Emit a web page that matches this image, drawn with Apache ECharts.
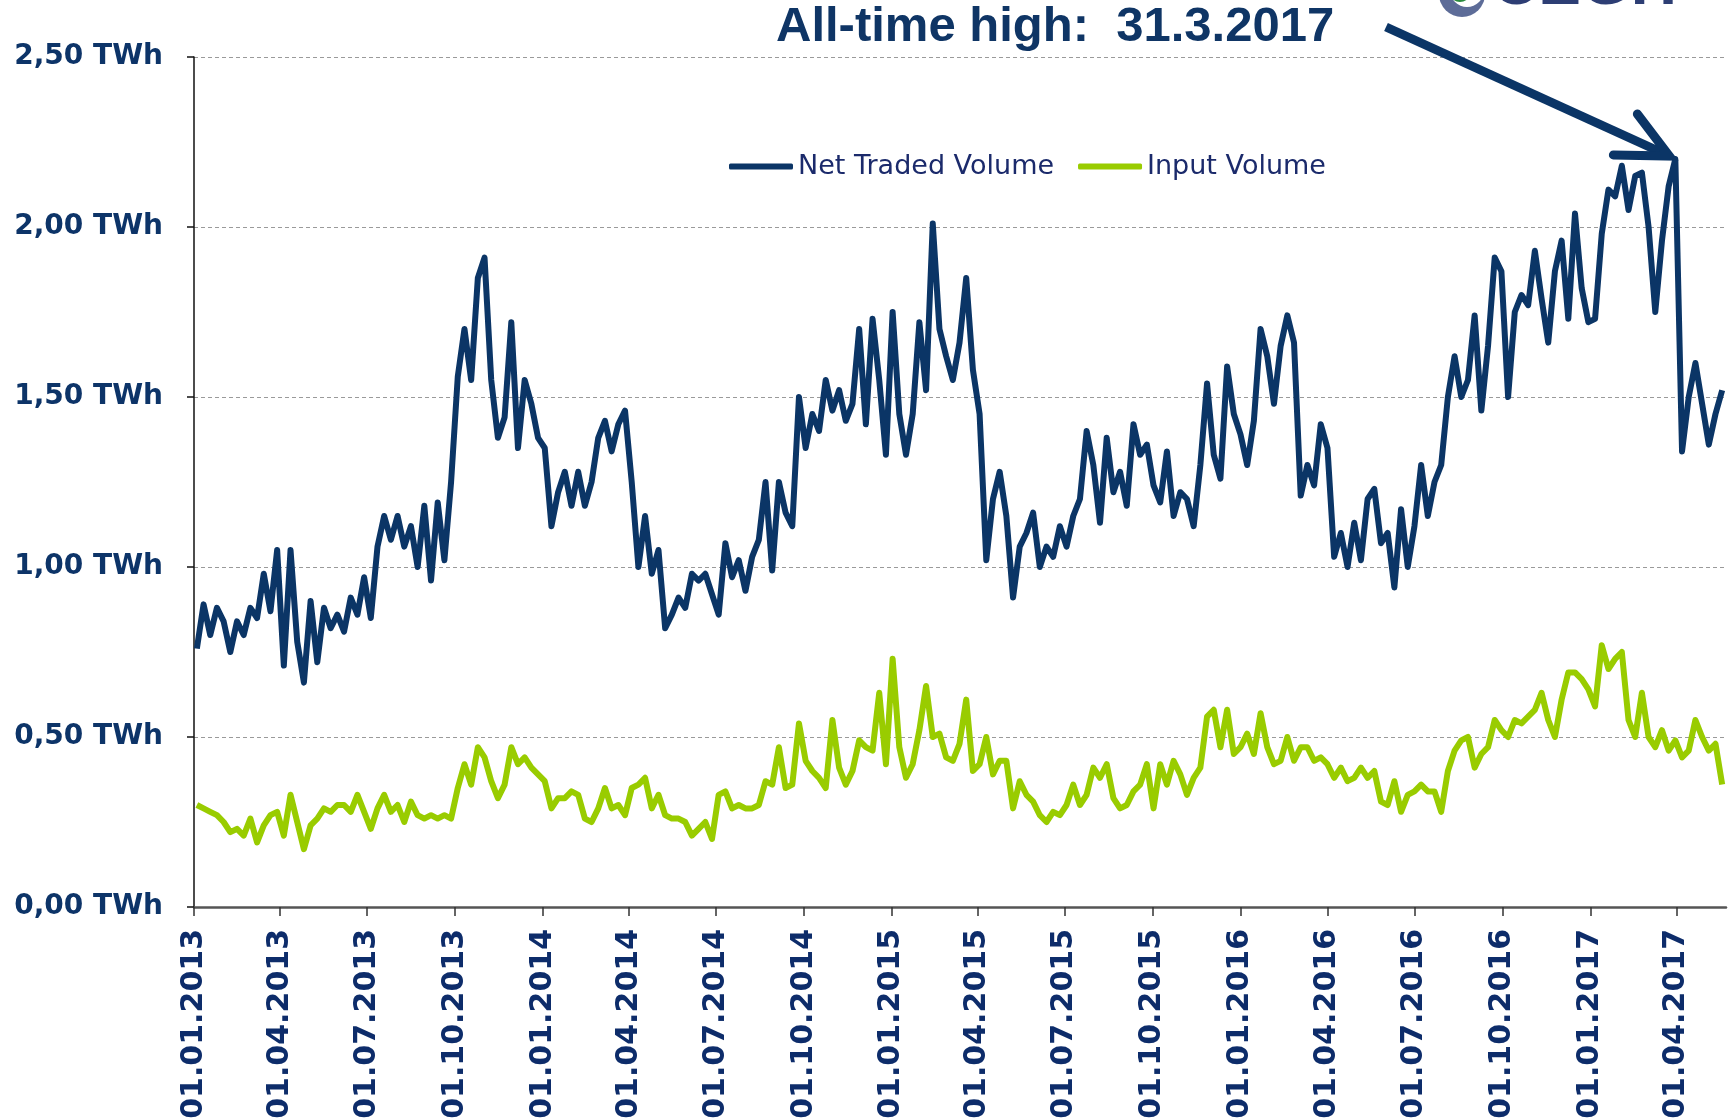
<!DOCTYPE html>
<html>
<head>
<meta charset="utf-8">
<script src="https://cdn.jsdelivr.net/npm/echarts@6/dist/echarts.min.js"></script>
<style>
html,body{margin:0;padding:0;background:#fff;}
#main{width:1729px;height:1119px;}
</style>
</head>
<body>
<div id="main"></div>
<script>
// quarter tick labels on the date axis
var tickLabels = ["01.01.2013","01.04.2013","01.07.2013","01.10.2013","01.01.2014","01.04.2014",
    "01.07.2014","01.10.2014","01.01.2015","01.04.2015","01.07.2015","01.10.2015",
    "01.01.2016","01.04.2016","01.07.2016","01.10.2016","01.01.2017","01.04.2017"];
var axisEnd = "23.05.2017";

// one reading per week, first one on 04.01.2013
var firstDate = "04.01.2013";
var stepDays = 7;

// TWh
var netTraded = [
    0.76,0.89,0.80,0.88,0.84,0.75,0.84,0.80,0.88,0.85,
    0.98,0.87,1.05,0.71,1.05,0.78,0.66,0.90,0.72,0.88,
    0.82,0.86,0.81,0.91,0.86,0.97,0.85,1.06,1.15,1.08,
    1.15,1.06,1.12,1.00,1.18,0.96,1.19,1.02,1.25,1.56,
    1.70,1.55,1.85,1.91,1.55,1.38,1.44,1.72,1.35,1.55,
    1.48,1.38,1.35,1.12,1.22,1.28,1.18,1.28,1.18,1.25,
    1.38,1.43,1.34,1.42,1.46,1.25,1.00,1.15,0.98,1.05,
    0.82,0.86,0.91,0.88,0.98,0.96,0.98,0.92,0.86,1.07,
    0.97,1.02,0.93,1.03,1.08,1.25,0.99,1.25,1.16,1.12,
    1.50,1.35,1.45,1.40,1.55,1.46,1.52,1.43,1.48,1.70,
    1.42,1.73,1.55,1.33,1.75,1.45,1.33,1.45,1.72,1.52,
    2.01,1.70,1.62,1.55,1.66,1.85,1.58,1.45,1.02,1.20,
    1.28,1.15,0.91,1.06,1.10,1.16,1.00,1.06,1.03,1.12,
    1.06,1.15,1.20,1.40,1.30,1.13,1.38,1.22,1.28,1.18,
    1.42,1.33,1.36,1.24,1.19,1.34,1.15,1.22,1.20,1.12,
    1.30,1.54,1.33,1.26,1.59,1.45,1.39,1.30,1.43,1.70,
    1.62,1.48,1.65,1.74,1.66,1.21,1.30,1.24,1.42,1.35,
    1.03,1.10,1.00,1.13,1.02,1.20,1.23,1.07,1.10,0.94,
    1.17,1.00,1.12,1.30,1.15,1.25,1.30,1.50,1.62,1.50,
    1.55,1.74,1.46,1.65,1.91,1.87,1.50,1.75,1.80,1.77,
    1.93,1.79,1.66,1.87,1.96,1.73,2.04,1.82,1.72,1.73,
    1.98,2.11,2.09,2.18,2.05,2.15,2.16,2.00,1.75,1.96,
    2.12,2.20,1.34,1.50,1.60,1.48,1.36,1.45,1.52
];
var inputVolume = [
    0.30,0.29,0.28,0.27,0.25,0.22,0.23,0.21,0.26,0.19,
    0.24,0.27,0.28,0.21,0.33,0.25,0.17,0.24,0.26,0.29,
    0.28,0.30,0.30,0.28,0.33,0.28,0.23,0.29,0.33,0.28,
    0.30,0.25,0.31,0.27,0.26,0.27,0.26,0.27,0.26,0.35,
    0.42,0.36,0.47,0.44,0.37,0.32,0.36,0.47,0.42,0.44,
    0.41,0.39,0.37,0.29,0.32,0.32,0.34,0.33,0.26,0.25,
    0.29,0.35,0.29,0.30,0.27,0.35,0.36,0.38,0.29,0.33,
    0.27,0.26,0.26,0.25,0.21,0.23,0.25,0.20,0.33,0.34,
    0.29,0.30,0.29,0.29,0.30,0.37,0.36,0.47,0.35,0.36,
    0.54,0.43,0.40,0.38,0.35,0.55,0.41,0.36,0.40,0.49,
    0.47,0.46,0.63,0.42,0.73,0.47,0.38,0.42,0.52,0.65,
    0.50,0.51,0.44,0.43,0.48,0.61,0.40,0.42,0.50,0.39,
    0.43,0.43,0.29,0.37,0.33,0.31,0.27,0.25,0.28,0.27,
    0.30,0.36,0.30,0.33,0.41,0.38,0.42,0.32,0.29,0.30,
    0.34,0.36,0.42,0.29,0.42,0.36,0.43,0.39,0.33,0.38,
    0.41,0.56,0.58,0.47,0.58,0.45,0.47,0.51,0.45,0.57,
    0.47,0.42,0.43,0.50,0.43,0.47,0.47,0.43,0.44,0.42,
    0.38,0.41,0.37,0.38,0.41,0.38,0.40,0.31,0.30,0.37,
    0.28,0.33,0.34,0.36,0.34,0.34,0.28,0.40,0.46,0.49,
    0.50,0.41,0.45,0.47,0.55,0.52,0.50,0.55,0.54,0.56,
    0.58,0.63,0.55,0.50,0.61,0.69,0.69,0.67,0.64,0.59,
    0.77,0.70,0.73,0.75,0.55,0.50,0.63,0.50,0.47,0.52,
    0.46,0.49,0.44,0.46,0.55,0.50,0.46,0.48,0.36
];

var yTicks = [0, 0.5, 1, 1.5, 2, 2.5];
var peakText = "All-time high:  31.3.2017";

var navy = "#0b3566";
var lime = "#99cc00";

var dayMs = 86400000;
function parseDate(s){ // dd.mm.yyyy -> UTC ms
    var p = s.split(".");
    return Date.UTC(+p[2], +p[1] - 1, +p[0]);
}
// x is counted in days from the first tick
var origin = parseDate(tickLabels[0]);
function dayOf(s){ return Math.round((parseDate(s) - origin) / dayMs); }

var tickDays = tickLabels.map(dayOf);
var d0 = dayOf(firstDate);
var days = netTraded.map(function(v, i){ return d0 + i * stepDays; });

function pairs(values){
    return values.map(function(v, i){ return [days[i], v]; });
}

var option = {
    animation:false,
    backgroundColor:"#fff",
    grid:{
        left:194, right:3, top:57, bottom:212,
        containLabel:false,
        outerBoundsMode:"none"
    },
    legend:{
        left:724, top:148,
        icon:"roundRect",
        itemWidth:64, itemHeight:6, itemGap:24,
        textStyle:{fontFamily:"DejaVu Sans", fontSize:27, color:"#1b2a6b"},
        data:["Net Traded Volume","Input Volume"]
    },
    xAxis:{
        type:"value",
        min:0,
        max:dayOf(axisEnd),
        axisLine:{lineStyle:{color:"#555", width:2.5}},
        axisTick:{show:true, customValues:tickDays, length:9, lineStyle:{color:"#333", width:1.5}},
        axisLabel:{
            customValues:tickDays,
            rotate:90,
            margin:22,
            fontFamily:"DejaVu Sans", fontWeight:"bold", fontSize:30, color:"#0d2c6a",
            formatter:function(v){
                var k = tickDays.indexOf(v);
                return k >= 0 ? tickLabels[k] : "";
            }
        },
        splitLine:{show:false}
    },
    yAxis:{
        type:"value",
        min:yTicks[0], max:yTicks[yTicks.length - 1], interval:yTicks[1] - yTicks[0],
        axisLine:{show:true, lineStyle:{color:"#111", width:1.5}},
        axisTick:{show:true, length:7, lineStyle:{color:"#111", width:1.5}},
        axisLabel:{
            margin:31,
            fontFamily:"DejaVu Sans", fontWeight:"bold", fontSize:28, color:"#0d3468",
            formatter:function(v){ return v.toFixed(2).replace(".", ",") + " TWh"; }
        },
        splitLine:{lineStyle:{type:[4,3], color:"#9a9a9a", width:1}}
    },
    series:[{
        name:"Net Traded Volume",
        type:"line",
        symbol:"none",
        data:pairs(netTraded),
        lineStyle:{color:navy, width:6, join:"round"},
        itemStyle:{color:navy},
        z:3
    },{
        name:"Input Volume",
        type:"line",
        symbol:"none",
        data:pairs(inputVolume),
        lineStyle:{color:lime, width:6, join:"round"},
        itemStyle:{color:lime},
        z:2
    }]
};

var chart = echarts.init(document.getElementById("main"));
chart.setOption(option);

// arrow from the note down to the highest point
var peakIdx = netTraded.indexOf(Math.max.apply(null, netTraded));
var tip = chart.convertToPixel({xAxisIndex:0, yAxisIndex:0}, [days[peakIdx], netTraded[peakIdx]]);
tip = [tip[0] - 6, tip[1] - 3];
var start = [1386, 27];

chart.setOption({
    graphic:[
        {
            type:"text", left:776, top:3,
            style:{text:peakText, fill:"#0f3565", font:"bold 49px 'Liberation Sans', Arial, sans-serif"}
        },
        {
            type:"polyline",
            shape:{points:[start, tip]},
            style:{stroke:navy, lineWidth:9, lineCap:"butt", fill:null}
        },
        {
            type:"polyline",
            shape:{points:[[tip[0] - 56, tip[1] - 1], tip, [tip[0] - 32, tip[1] - 42]]},
            style:{stroke:navy, lineWidth:9, lineCap:"round", lineJoin:"miter", fill:null}
        },
        // logo, cut off by the top edge
        {type:"circle", shape:{cx:1462, cy:-6, r:23}, style:{fill:"#5d6c98"}},
        {type:"circle", shape:{cx:1467, cy:-10, r:17}, style:{fill:"#ffffff"}},
        {type:"circle", shape:{cx:1460, cy:-9, r:11}, style:{fill:"#2a8a3e"}},
        {
            type:"text", x:1492, y:18,
            style:{text:"CEGH", fill:"#2d3e74", font:"bold 64px 'Liberation Sans', Arial, sans-serif", verticalAlign:"bottom"}
        }
    ]
});
</script>
</body>
</html>
